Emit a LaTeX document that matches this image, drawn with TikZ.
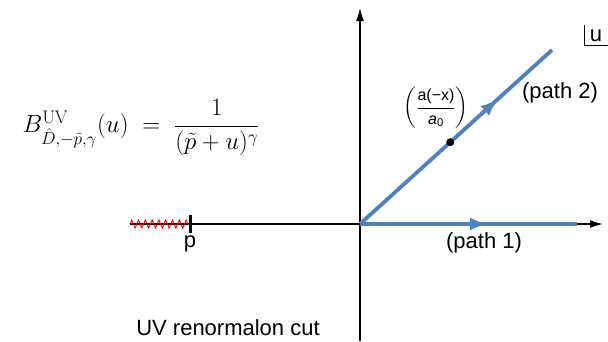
\documentclass[tikz,border=0pt]{standalone}
\usepackage{amsmath}
\usepackage{fontspec}
\newfontfamily\helv{Liberation Sans}
\usetikzlibrary{positioning, calc, arrows.meta, decorations.markings, decorations.pathmorphing}
\definecolor{pathblue}{RGB}{79,129,189}

\tikzset{
  axis/.style={line width=1.4pt, -{Latex[length=13pt,width=8pt]}},
  contour/.style={pathblue, line width=3.8pt, postaction={decorate},
    decoration={markings, mark=at position #1 with {\arrow{Latex[length=18pt,width=13pt]}}}},
  cut/.style={red, line width=0.9pt, decorate,
    decoration={zigzag, segment length=6.8pt, amplitude=4pt}},
  lbl/.style={font=\helv\fontsize{22}{26}\selectfont, inner sep=0pt},
}

\begin{document}
\begin{tikzpicture}[x=1pt, y=-1pt]
    \useasboundingbox (0,0) rectangle (608,341);

    \coordinate (O) at (360,224);
    \coordinate (left) at (130,224);
    \coordinate (right) at (603,224);
    \coordinate (bottom) at (360,341);
    \coordinate (top) at (360,8);
    \coordinate (p) at (190,224);
    \coordinate (end1) at (577,224);
    \coordinate (end2) at (552,50);
    \coordinate (dot) at ($(O)!0.47!(end2)$);

    % axes
    \draw[line width=1.4pt] (left) -- (p);
    \draw[axis] (p) -- (right);
    \draw[axis] (bottom) -- (top);

    % cut
    \draw[cut] (left) -- (p);
    \draw[line width=3pt] ([yshift=-9pt]p) -- ([yshift=9pt]p);
    \node[lbl, below=11pt of p] (plabel) {p};

    % paths
    \draw[contour=0.59] (O) -- (end1);
    \draw[contour=0.72] (O) -- (end2);
    \fill (dot) circle (4pt);

    \node[lbl] (path1) at (484,243) {(path 1)};
    \node[lbl] (path2) at (560,93) {(path 2)};
    \node[inner sep=0pt, font=\helv\fontsize{16}{18}\selectfont] (frac) at (436,108)
        {$\left(\dfrac{\text{\helv a(−x)}}{\text{\helv\itshape a}_{\text{\helv 0}}}\right)$};

    % u plane
    \node[lbl] (u) at (596,36) {u};
    \draw[line width=1pt] (584,25) |- (608,45);

    \node[inner sep=0pt, font=\fontsize{26}{30}\selectfont] (formula) at (141,128)
        {$B^{\mathrm{UV}}_{\hat{D},-\tilde{p},\gamma}(u) \;=\; \dfrac{1}{(\tilde{p}+u)^{\gamma}}$};
    \node[lbl] (cutlabel) at (228,328) {UV renormalon cut};
\end{tikzpicture}
\end{document}
